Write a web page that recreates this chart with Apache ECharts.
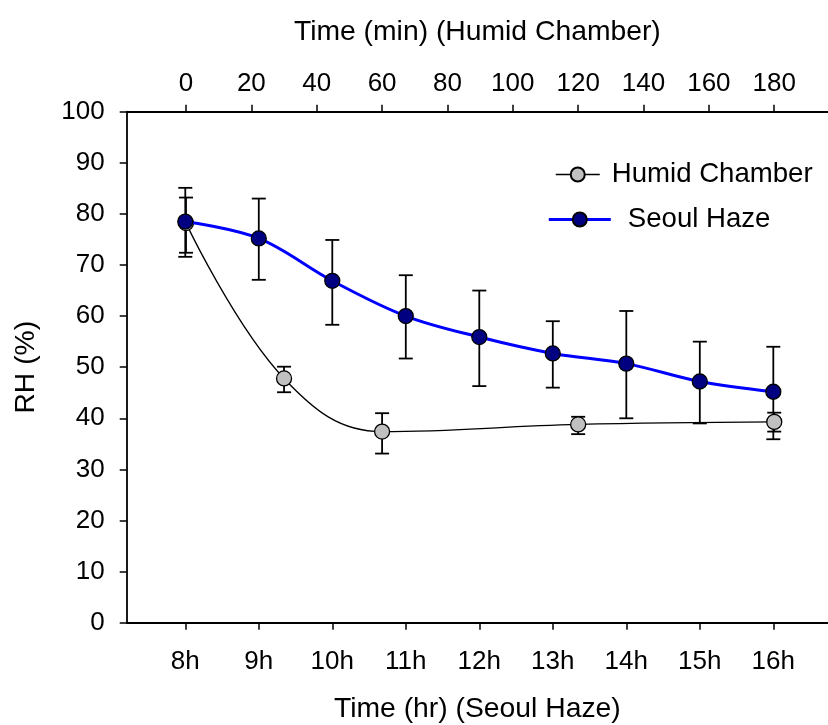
<!DOCTYPE html>
<html>
<head>
<meta charset="utf-8">
<script src="https://cdn.jsdelivr.net/npm/echarts@6/dist/echarts.min.js"></script>
<style>
  html, body { margin: 0; padding: 0; background: #fff; }
  #chart { width: 828px; height: 725px; }
</style>
</head>
<body>
<div id="chart"></div>
<script>
// Seoul haze: hour of day, mean RH and error-bar limits
const hazeHours = [8, 9, 10, 11, 12, 13, 14, 15, 16];
const hazeRH    = [78.5, 75.2, 66.9, 60.0, 55.9, 52.7, 50.7, 47.2, 45.2];
const hazeHigh  = [85.1, 83.0, 74.9, 68.0, 65.0, 59.0, 61.0, 55.0, 54.0];
const hazeLow   = [71.6, 67.1, 58.3, 51.7, 46.3, 46.0, 40.0, 39.0, 35.9];

// Humid chamber: elapsed minutes, mean RH and error-bar limits
const chamberMin  = [0, 30, 60, 120, 180];
const chamberRH   = [78.2, 47.8, 37.4, 38.8, 39.3];
const chamberHigh = [83.2, 50.1, 41.0, 40.3, 41.1];
const chamberLow  = [72.4, 45.1, 33.1, 36.9, 37.4];

// Axis ticks
const hourTicks = [8, 9, 10, 11, 12, 13, 14, 15, 16];
const minuteTicks = [0, 20, 40, 60, 80, 100, 120, 140, 160, 180];
const rhTicks = [0, 10, 20, 30, 40, 50, 60, 70, 80, 90, 100];

const FONT = '"Liberation Sans", Arial, sans-serif';
const TICK_SIZE = 26;
const TITLE_SIZE = 28.3;
const LEGEND_SIZE = 27.6;

function errorBars(xs, hi, lo, axisIndex, name) {
  return {
    type: 'custom',
    name: name,
    xAxisIndex: axisIndex,
    yAxisIndex: 0,
    z: 1,
    silent: true,
    data: xs.map((x, i) => [x, lo[i], hi[i]]),
    renderItem: function (params, api) {
      const x = api.value(0);
      const pLo = api.coord([x, api.value(1)]);
      const pHi = api.coord([x, api.value(2)]);
      const hw = 7;
      const style = { stroke: '#000', lineWidth: 1.8 };
      return {
        type: 'group',
        children: [
          { type: 'line', shape: { x1: pHi[0], y1: pHi[1], x2: pLo[0], y2: pLo[1] }, style: style },
          { type: 'line', shape: { x1: pHi[0] - hw, y1: pHi[1], x2: pHi[0] + hw, y2: pHi[1] }, style: style },
          { type: 'line', shape: { x1: pLo[0] - hw, y1: pLo[1], x2: pLo[0] + hw, y2: pLo[1] }, style: style }
        ]
      };
    }
  };
}

const axisLineStyle = { color: '#000', width: 1.8 };

const option = {
  animation: false,
  backgroundColor: '#fff',
  textStyle: { fontFamily: FONT, color: '#000' },
  grid: {
    left: 126.7, right: 0, top: 111.7, bottom: 102.3,
    containLabel: false, outerBoundsMode: 'none'
  },
  legend: [
    {
      data: ['Humid Chamber'],
      left: 555, top: 160.5, padding: 0,
      itemWidth: 44, itemHeight: 17.5,
      lineStyle: { width: 1.5 },
      textStyle: { fontFamily: FONT, fontSize: LEGEND_SIZE, color: '#000', padding: [0, 0, 0, 7] }
    },
    {
      data: ['Seoul Haze'],
      left: 547.3, top: 205.5, padding: 0,
      itemWidth: 62, itemHeight: 17.5,
      lineStyle: { width: 3 },
      textStyle: { fontFamily: FONT, fontSize: LEGEND_SIZE, color: '#000', padding: [0, 0, 0, 12] }
    }
  ],
  xAxis: [
    {
      type: 'value',
      position: 'bottom',
      min: 7.203, max: 16.744,
      name: 'Time (hr) (Seoul Haze)',
      nameLocation: 'middle',
      nameGap: 72,
      nameTextStyle: { fontFamily: FONT, fontSize: TITLE_SIZE, color: '#000' },
      axisLine: { show: true, onZero: false, lineStyle: axisLineStyle },
      axisTick: { show: true, length: 7, customValues: hourTicks, lineStyle: { color: '#000', width: 1.5 } },
      axisLabel: {
        customValues: hourTicks, margin: 26,
        fontFamily: FONT, fontSize: TICK_SIZE, color: '#000',
        formatter: v => v + 'h'
      },
      splitLine: { show: false }
    },
    {
      type: 'value',
      position: 'top',
      min: -18.15, max: 196.45,
      name: 'Time (min) (Humid Chamber)',
      nameLocation: 'middle',
      nameGap: 66,
      nameTextStyle: { fontFamily: FONT, fontSize: TITLE_SIZE, color: '#000' },
      axisLine: { show: true, onZero: false, lineStyle: axisLineStyle },
      axisTick: { show: true, length: 7, customValues: minuteTicks, lineStyle: { color: '#000', width: 1.5 } },
      axisLabel: {
        customValues: minuteTicks, margin: 15,
        fontFamily: FONT, fontSize: TICK_SIZE, color: '#000'
      },
      splitLine: { show: false }
    }
  ],
  yAxis: {
    type: 'value',
    min: 0, max: 100, interval: 10,
    name: 'RH (%)',
    nameLocation: 'middle',
    nameGap: 87,
    nameTextStyle: { fontFamily: FONT, fontSize: TITLE_SIZE, color: '#000' },
    axisLine: { show: true, onZero: false, lineStyle: axisLineStyle },
    axisTick: { show: true, length: 7, customValues: rhTicks, lineStyle: { color: '#000', width: 1.5 } },
    axisLabel: {
      customValues: rhTicks, margin: 22,
      fontFamily: FONT, fontSize: TICK_SIZE, color: '#000'
    },
    splitLine: { show: false }
  },
  series: [
    errorBars(hazeHours, hazeHigh, hazeLow, 0, 'haze-err'),
    errorBars(chamberMin, chamberHigh, chamberLow, 1, 'chamber-err'),
    {
      name: 'Humid Chamber',
      type: 'line',
      xAxisIndex: 1,
      z: 3,
      smooth: 0.4,
      data: chamberMin.map((m, i) => [m, chamberRH[i]]),
      symbol: 'circle',
      symbolSize: 15,
      lineStyle: { color: '#000', width: 1.3 },
      itemStyle: { color: '#c0c0c0', borderColor: '#000', borderWidth: 1.3 }
    },
    {
      name: 'Seoul Haze',
      type: 'line',
      xAxisIndex: 0,
      z: 4,
      smooth: 0.35,
      data: hazeHours.map((h, i) => [h, hazeRH[i]]),
      symbol: 'circle',
      symbolSize: 15,
      lineStyle: { color: '#0000ff', width: 3 },
      itemStyle: { color: '#000080', borderColor: '#000', borderWidth: 1.3 }
    }
  ]
};

const chart = echarts.init(document.getElementById('chart'), null, { renderer: 'canvas' });
chart.setOption(option);
</script>
</body>
</html>
